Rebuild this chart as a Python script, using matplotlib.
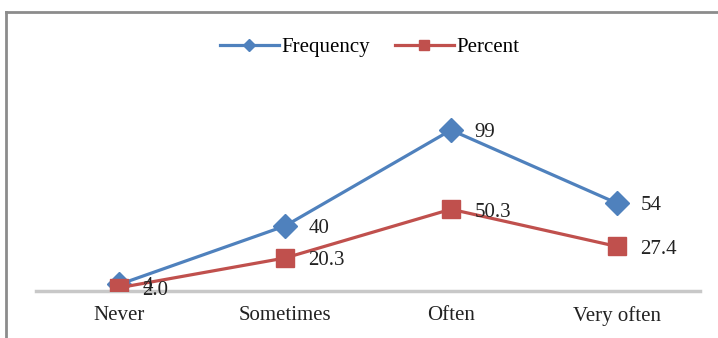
import matplotlib.pyplot as plt
from matplotlib.lines import Line2D

categories = ["Never", "Sometimes", "Often", "Very often"]
frequency = [4, 40, 99, 54]
percent = [2.0, 20.3, 50.3, 27.4]
freq_labels = ["4", "40", "99", "54"]
pct_labels = ["2.0", "20.3", "50.3", "27.4"]

plt.rcParams['font.family'] = ['Liberation Serif', 'DejaVu Serif']

blue = "#4F81BD"
red = "#C0504D"
FS = 15

fig = plt.figure(figsize=(7.18, 3.38), dpi=100)
W, H = 718, 338

# outer chart frame (left and top edges visible)
fig.add_artist(Line2D([6 / W, 6 / W], [0, 1 - 12 / H], color="#8c8c8c", lw=2))
fig.add_artist(Line2D([6 / W, 1], [1 - 12 / H, 1 - 12 / H], color="#8c8c8c", lw=2))

ax = fig.add_axes([36 / W, 47 / H, (700 - 36) / W, (291 - 100) / H])
x = list(range(len(categories)))
ax.set_xlim(-0.5, len(categories) - 0.5)
ax.set_ylim(0, 117.5)

ax.plot(x, frequency, color=blue, lw=2.3, marker="D", ms=12.5,
        label="Frequency", zorder=3)
ax.plot(x, percent, color=red, lw=2.3, marker="s", ms=13,
        label="Percent", zorder=3)

for xi, v, t in zip(x, frequency, freq_labels):
    ax.annotate(t, (xi, v), xytext=(17, -1.5), textcoords="offset points",
                ha="left", va="center", fontsize=FS, color="#222222")
for xi, v, t in zip(x, percent, pct_labels):
    ax.annotate(t, (xi, v), xytext=(17, -2), textcoords="offset points",
                ha="left", va="center", fontsize=FS, color="#222222")

for s in ["top", "right", "left"]:
    ax.spines[s].set_visible(False)
ax.spines["bottom"].set_color("#c8c8c8")
ax.spines["bottom"].set_linewidth(2.5)
ax.set_yticks([])
ax.set_xticks(x)
ax.set_xticklabels(categories, fontsize=FS, color="#222222")
ax.tick_params(axis="x", length=0, pad=11)

fig.legend(loc="center", bbox_to_anchor=(370 / W, 1 - 47 / H), ncol=2,
           frameon=False, fontsize=FS, handlelength=2.8, columnspacing=1.2,
           handletextpad=0.15, markerscale=0.5)

fig.savefig("out.png", dpi=100, facecolor="white")
